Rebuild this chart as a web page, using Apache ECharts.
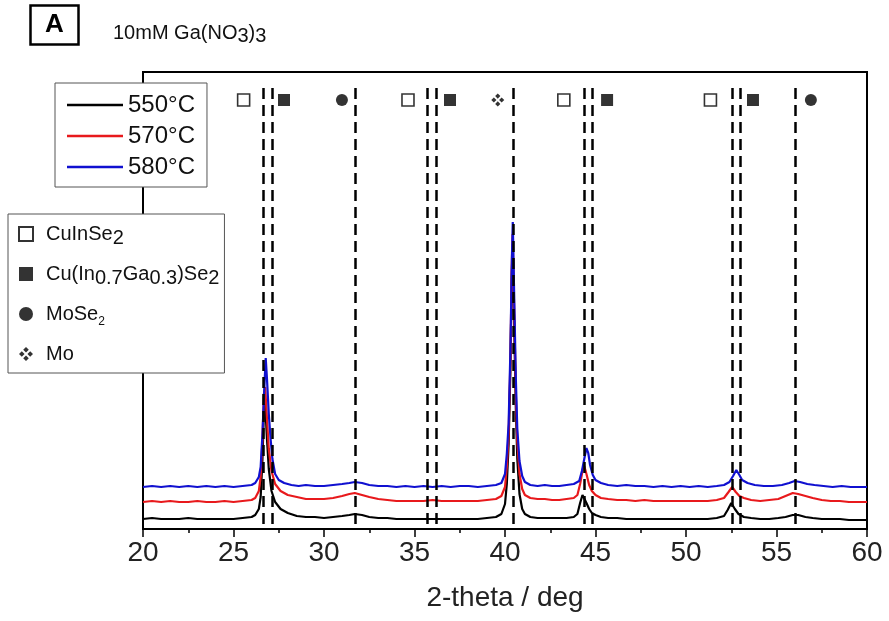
<!DOCTYPE html>
<html>
<head>
<meta charset="utf-8">
<script src="https://cdn.jsdelivr.net/npm/echarts@6/dist/echarts.min.js"></script>
<style>
html,body{margin:0;padding:0;background:#fff;}
#chart{width:889px;height:621px;}
</style>
</head>
<body>
<div id="chart"></div>
<script>
// ---- data (2-theta in deg, intensity in arbitrary units) ----
const seriesNames = ['550°C', '570°C', '580°C'];
const seriesColors = ['#000000', '#e8191c', '#1010d0'];

const t550 = [[20,10],[20.5,11],[21,10],[21.5,10],[22,10],[22.5,11],[23,10],[23.5,10],[24,10],[24.5,10],[25,10],[25.5,11],[26,12],[26.2,14],[26.4,20],[26.5,32],[26.6,70],[26.68,118],[26.75,125],[26.85,90],[26.95,60],[27.1,38],[27.3,27],[27.6,20],[28,16],[28.5,13],[29,12],[29.5,12],[30,11],[30.5,12],[31,13],[31.4,14],[31.7,15],[32.1,14],[32.5,12],[33,11],[33.5,11],[34,10],[34.5,10],[35,10],[35.5,10],[36,10],[36.5,10],[37,10],[37.5,10],[38,10],[38.5,10],[39,11],[39.5,12],[39.8,15],[40,25],[40.1,45],[40.2,85],[40.3,160],[40.37,250],[40.42,285],[40.5,210],[40.6,120],[40.68,70],[40.8,35],[40.95,20],[41.1,15],[41.4,12],[41.8,11],[42.2,11],[42.6,11],[43,11],[43.4,11],[43.8,12],[44,15],[44.15,26],[44.28,34],[44.36,33],[44.5,26],[44.65,20],[44.8,16],[45,14],[45.3,12],[45.7,11],[46.2,11],[46.7,10],[47.2,10],[47.7,10],[48.2,10],[48.7,10],[49.2,10],[49.7,10],[50.2,10],[50.7,10],[51.2,10],[51.7,11],[52.1,13],[52.3,19],[52.5,26],[52.7,20],[52.9,15],[53.2,12],[53.6,11],[54.1,10],[54.6,10],[55.1,11],[55.5,12],[55.9,14],[56.2,14],[56.6,12],[57,11],[57.5,10],[58,10],[58.5,10],[59,9],[59.5,9],[60,9]];

const t570 = [[20,27],[20.5,28],[21,27],[21.5,28],[22,27],[22.5,27],[23,28],[23.5,27],[24,27],[24.5,28],[25,27],[25.5,28],[26,29],[26.2,31],[26.4,38],[26.5,52],[26.6,90],[26.68,135],[26.75,142],[26.85,110],[26.95,80],[27.1,58],[27.3,45],[27.6,38],[28,34],[28.5,32],[29,30],[29.5,30],[30,30],[30.5,31],[31,33],[31.4,35],[31.7,36],[32.1,34],[32.5,32],[33,30],[33.5,29],[34,28],[34.5,28],[35,28],[35.5,28],[36,29],[36.5,28],[37,28],[37.5,28],[38,28],[38.5,28],[39,29],[39.5,30],[39.8,33],[40,42],[40.1,62],[40.2,95],[40.3,170],[40.37,260],[40.42,295],[40.5,225],[40.6,135],[40.68,88],[40.8,55],[40.95,40],[41.1,34],[41.4,31],[41.8,30],[42.2,30],[42.6,29],[43,29],[43.4,30],[43.8,31],[44,34],[44.15,45],[44.3,60],[44.38,63],[44.5,55],[44.65,44],[44.8,38],[45,34],[45.3,31],[45.7,30],[46.2,29],[46.7,29],[47.2,28],[47.7,29],[48.2,28],[48.7,28],[49.2,28],[49.7,28],[50.2,28],[50.7,28],[51.2,28],[51.7,29],[52.1,31],[52.35,37],[52.55,42],[52.75,37],[52.95,33],[53.2,31],[53.6,29],[54.1,28],[54.6,29],[55.1,30],[55.5,33],[55.9,36],[56.2,35],[56.6,33],[57,31],[57.5,29],[58,28],[58.5,28],[59,27],[59.5,27],[60,27]];

const t580 = [[20,42],[20.5,43],[21,42],[21.5,43],[22,42],[22.5,43],[23,42],[23.5,43],[24,42],[24.5,43],[25,42],[25.5,43],[26,44],[26.2,46],[26.4,52],[26.5,62],[26.6,95],[26.7,140],[26.78,171],[26.85,150],[26.95,115],[27.05,90],[27.15,70],[27.3,55],[27.5,49],[27.8,46],[28.2,44],[28.6,43],[29,44],[29.5,43],[30,43],[30.5,44],[31,45],[31.4,46],[31.7,47],[32.1,46],[32.5,44],[33,43],[33.5,43],[34,42],[34.5,43],[35,42],[35.5,43],[36,42],[36.5,43],[37,42],[37.5,43],[38,43],[38.5,42],[39,43],[39.5,44],[39.8,46],[40,55],[40.1,75],[40.2,105],[40.3,180],[40.38,270],[40.43,307],[40.5,240],[40.6,150],[40.68,100],[40.8,68],[40.95,53],[41.1,47],[41.4,44],[41.8,43],[42.2,44],[42.6,43],[43,43],[43.4,44],[43.8,45],[44.1,48],[44.25,58],[44.4,72],[44.5,81],[44.6,76],[44.7,64],[44.85,54],[45,49],[45.3,46],[45.7,44],[46.2,43],[46.7,44],[47.2,43],[47.7,43],[48.2,42],[48.7,43],[49.2,42],[49.7,43],[50.2,42],[50.7,43],[51.2,42],[51.7,43],[52.1,44],[52.4,47],[52.6,53],[52.78,59],[52.95,54],[53.1,49],[53.4,46],[53.8,44],[54.3,43],[54.8,43],[55.3,44],[55.7,46],[56,48],[56.3,47],[56.7,45],[57.1,44],[57.6,43],[58.1,42],[58.6,43],[59.1,42],[59.6,42],[60,42]];

// reference peak positions (dashed lines), deg
const refLines = [26.63, 27.13, 31.71, 35.72, 36.22, 40.43, 44.36, 44.81, 52.55, 52.97, 56.06];

// phase marker positions, deg
const phaseNames = ['CuInSe2', 'Cu(In0.7Ga0.3)Se2', 'MoSe2', 'Mo'];
const cuInSe2Marks = [25.56, 34.64, 43.25, 51.35];
const cigsMarks = [27.79, 36.96, 45.64, 53.7];
const moSe2Marks = [30.99, 56.9];
const moMarks = [39.6];

// ---- chart ----
const FONT = '"Liberation Sans", Arial, sans-serif';
const MARK_LEVEL = 429;
const LINE_TOP = 441;
const moPath = 'path://M5,0 L7,2 L5,4 L3,2 Z M5,6 L7,8 L5,10 L3,8 Z M0,5 L2,3 L4,5 L2,7 Z M6,5 L8,3 L10,5 L8,7 Z';

const traces = [t550, t570, t580];
const series = traces.map((d, i) => ({
  name: seriesNames[i],
  type: 'line',
  data: d,
  symbol: 'none',
  z: 2 + i,
  lineStyle: { color: seriesColors[i], width: 2.2 },
  itemStyle: { color: seriesColors[i] },
  animation: false
}));

series.push({
  name: 'refs',
  type: 'line',
  data: [],
  z: 8,
  silent: true,
  markLine: {
    silent: true,
    symbol: ['none', 'none'],
    animation: false,
    label: { show: false },
    lineStyle: { color: '#000', width: 2.5, type: [11, 6] },
    emphasis: { disabled: true },
    data: refLines.map(x => [{ coord: [x, LINE_TOP] }, { coord: [x, 0] }])
  }
});

const markerDefs = [
  { name: phaseNames[0], xs: cuInSe2Marks, symbol: 'rect', size: 12, style: { color: '#fff', borderColor: '#000', borderWidth: 1.6 } },
  { name: phaseNames[1], xs: cigsMarks, symbol: 'rect', size: 12, style: { color: '#000' } },
  { name: phaseNames[2], xs: moSe2Marks, symbol: 'circle', size: 12, style: { color: '#000' } },
  { name: phaseNames[3], xs: moMarks, symbol: moPath, size: 13, style: { color: '#000' } }
];
markerDefs.forEach(m => {
  series.push({
    name: m.name,
    type: 'scatter',
    data: m.xs.map(x => [x, MARK_LEVEL]),
    symbol: m.symbol,
    symbolSize: m.size,
    itemStyle: m.style,
    z: 9,
    silent: true,
    animation: false
  });
});

const richLegend = {
  n: { fontSize: 20, fontFamily: FONT, color: '#111', lineHeight: 28, verticalAlign: 'middle' },
  s: { fontSize: 20, fontFamily: FONT, color: '#111', lineHeight: 16, verticalAlign: 'bottom' },
  ss: { fontSize: 12, fontFamily: FONT, color: '#111', lineHeight: 12, verticalAlign: 'bottom' }
};
const legendLabels = {
  'CuInSe2': '{n|CuInSe}{s|2}',
  'Cu(In0.7Ga0.3)Se2': '{n|Cu(In}{s|0.7}{n|Ga}{s|0.3}{n|)Se}{s|2}',
  'MoSe2': '{n|MoSe}{ss|2}',
  'Mo': '{n|Mo}'
};

const option = {
  backgroundColor: '#fff',
  animation: false,
  textStyle: { fontFamily: FONT },
  title: [
    {
      text: 'A', left: 30, top: 5,
      borderColor: '#000', borderWidth: 2.5, padding: [7, 15],
      textStyle: { fontSize: 26, fontWeight: 'bold', color: '#000', fontFamily: FONT }
    },
    {
      text: '{n|10mM Ga(NO}{s|3}{n|)}{s|3}', left: 113, top: 20, padding: 0,
      textStyle: {
        fontFamily: FONT, fontWeight: 'normal',
        rich: {
          n: { fontSize: 20, color: '#111', fontFamily: FONT, fontWeight: 'normal', lineHeight: 26, verticalAlign: 'middle' },
          s: { fontSize: 20, color: '#111', fontFamily: FONT, fontWeight: 'normal', lineHeight: 14, verticalAlign: 'bottom' }
        }
      }
    }
  ],
  legend: [
    {
      data: seriesNames.map(n => ({ name: n, icon: 'rect' })),
      orient: 'vertical',
      left: 55, top: 83,
      padding: [9, 12, 7, 12],
      itemGap: 5,
      itemWidth: 56, itemHeight: 2.5,
      backgroundColor: '#fff',
      borderColor: '#555', borderWidth: 1,
      selectedMode: false,
      textStyle: { fontSize: 24, color: '#111', fontFamily: FONT, lineHeight: 26 }
    },
    {
      data: phaseNames,
      orient: 'vertical',
      left: 8, top: 214,
      padding: [10, 5, 9, 10],
      itemGap: 16,
      itemWidth: 14, itemHeight: 14,
      backgroundColor: '#fff',
      borderColor: '#555', borderWidth: 1,
      selectedMode: false,
      formatter: name => legendLabels[name],
      textStyle: { fontFamily: FONT, padding: [0, 0, 0, 8], rich: richLegend }
    }
  ],
  grid: {
    left: 143, right: 22, top: 72, bottom: 92,
    show: true, borderColor: '#000', borderWidth: 2, backgroundColor: 'transparent'
  },
  xAxis: {
    type: 'value', min: 20, max: 60, interval: 5,
    name: '2-theta / deg', nameLocation: 'middle', nameGap: 55,
    nameTextStyle: { fontSize: 28, color: '#222', fontFamily: FONT },
    axisLine: { show: true, lineStyle: { color: '#000', width: 2 } },
    axisTick: { show: true, length: 8, lineStyle: { color: '#000', width: 1.5 } },
    minorTick: { show: true, splitNumber: 2, length: 4, lineStyle: { color: '#000', width: 1.5 } },
    axisLabel: { fontSize: 28, color: '#222', margin: 10, fontFamily: FONT },
    splitLine: { show: false }
  },
  yAxis: {
    type: 'value', min: 0, max: 457,
    axisLine: { show: true, lineStyle: { color: '#000', width: 2 } },
    axisTick: { show: false }, axisLabel: { show: false }, splitLine: { show: false }
  },
  series: series
};

const chart = echarts.init(document.getElementById('chart'), null, { renderer: 'canvas' });
chart.setOption(option);
</script>
</body>
</html>
